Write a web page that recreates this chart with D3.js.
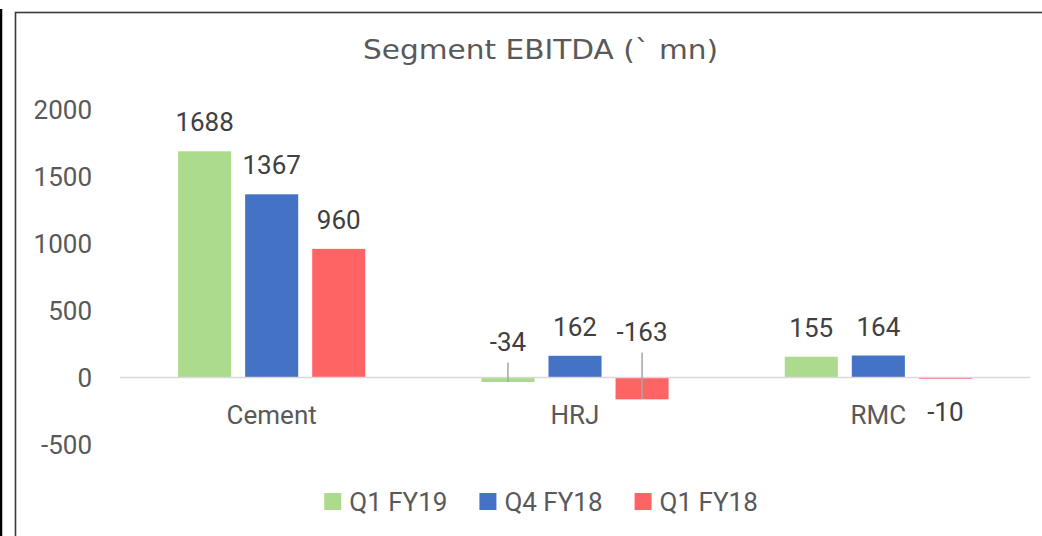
<!DOCTYPE html>
<html>
<head>
<meta charset="utf-8">
<script src="https://cdn.jsdelivr.net/npm/d3@7"></script>
<style>
  body { margin: 0; background: #fff; }
  svg { display: block; font-family: Roboto, "Liberation Sans", sans-serif; }
</style>
</head>
<body>
<svg id="chart"></svg>
<script>
const categories = ["Cement", "HRJ", "RMC"];
const seriesNames = ["Q1 FY19", "Q4 FY18", "Q1 FY18"];
const q1fy19 = [1688, -34, 155];
const q4fy18 = [1367, 162, 164];
const q1fy18 = [960, -163, -10];
const yTicks = [-500, 0, 500, 1000, 1500, 2000];
const seriesColors = ["#acdb8e", "#4472c4", "#ff6464"];

const seriesValues = [q1fy19, q4fy18, q1fy18];

const width = 1042;
const height = 536;
const margin = { top: 109.5, right: 12, bottom: 91.5, left: 120 };

const svg = d3.select("#chart").attr("width", width).attr("height", height);

// outer frame lines
svg.append("line")
  .attr("x1", 1).attr("x2", 1).attr("y1", 9).attr("y2", height)
  .attr("stroke", "#000").attr("stroke-width", 2.5);
svg.append("rect")
  .attr("x", 15.5).attr("y", 12.5)
  .attr("width", width + 10).attr("height", height)
  .attr("fill", "none").attr("stroke", "#3a3a3a").attr("stroke-width", 1.6);

const x0 = d3.scaleBand()
  .domain(categories)
  .range([margin.left, width - margin.right])
  .padding(0);

const x1 = d3.scaleBand()
  .domain(seriesNames)
  .range([0, x0.bandwidth()])
  .paddingInner(0.209)
  .paddingOuter(0.866);

const y = d3.scaleLinear()
  .domain([-500, 2000])
  .range([height - margin.bottom, margin.top]);

// title
svg.append("text")
  .attr("x", 540.5)
  .attr("y", 59)
  .attr("text-anchor", "middle")
  .attr("textLength", 355)
  .attr("lengthAdjust", "spacingAndGlyphs")
  .style("font-family", "'DejaVu Sans', sans-serif")
  .style("font-size", "27px")
  .style("fill", "#595959")
  .text("Segment EBITDA (`  mn)");

// y axis labels
svg.append("g")
  .selectAll("text")
  .data(yTicks)
  .enter()
  .append("text")
  .attr("x", 92)
  .attr("y", (d) => y(d))
  .attr("dy", "0.35em")
  .attr("text-anchor", "end")
  .style("font-size", "26px")
  .style("fill", "#595959")
  .text((d) => d);

// bars
const rows = [];
seriesNames.forEach((s, si) => {
  categories.forEach((c, ci) => {
    rows.push({ series: s, si: si, cat: c, value: seriesValues[si][ci] });
  });
});

svg.append("g")
  .selectAll("rect")
  .data(rows)
  .enter()
  .append("rect")
  .attr("x", (d) => x0(d.cat) + x1(d.series))
  .attr("y", (d) => y(Math.max(0, d.value)))
  .attr("width", x1.bandwidth())
  .attr("height", (d) => Math.abs(y(d.value) - y(0)))
  .attr("fill", (d) => seriesColors[d.si]);

// zero line
svg.append("line")
  .attr("x1", margin.left)
  .attr("x2", width - margin.right)
  .attr("y1", y(0))
  .attr("y2", y(0))
  .attr("stroke", "#d9d9d9")
  .attr("stroke-width", 1.5);

// category labels
svg.append("g")
  .selectAll("text")
  .data(categories)
  .enter()
  .append("text")
  .attr("x", (d) => x0(d) + x0.bandwidth() / 2)
  .attr("y", 424)
  .attr("text-anchor", "middle")
  .style("font-size", "26px")
  .style("fill", "#595959")
  .text((d) => d);

// labels that were dragged above the axis in the original (with leader lines)
const movedLabels = { "HRJ|Q1 FY19": 36, "HRJ|Q1 FY18": 46 };

const labelY = (d) => {
  const key = d.cat + "|" + d.series;
  if (movedLabels[key]) return y(0) - movedLabels[key];
  return d.value >= 0 ? y(d.value) - 29 : y(d.value) + 33;
};

rows.filter((d) => movedLabels[d.cat + "|" + d.series]).forEach((d) => {
  svg.append("line")
    .attr("x1", x0(d.cat) + x1(d.series) + x1.bandwidth() / 2)
    .attr("x2", x0(d.cat) + x1(d.series) + x1.bandwidth() / 2)
    .attr("y1", labelY(d) + 21)
    .attr("y2", y(d.value))
    .attr("stroke", "#a6a6a6")
    .attr("stroke-width", 1.5);
});

svg.append("g")
  .selectAll("text")
  .data(rows)
  .enter()
  .append("text")
  .attr("x", (d) => x0(d.cat) + x1(d.series) + x1.bandwidth() / 2)
  .attr("y", labelY)
  .attr("dy", "0.35em")
  .attr("text-anchor", "middle")
  .style("font-size", "26px")
  .style("fill", "#404040")
  .text((d) => d.value);

// legend
const legend = svg.append("g").attr("class", "legend");
const items = legend.selectAll("g")
  .data(seriesNames)
  .enter()
  .append("g");

items.append("rect")
  .attr("width", 17)
  .attr("height", 17)
  .attr("y", 493)
  .attr("fill", (d, i) => seriesColors[i]);

items.append("text")
  .attr("x", 25)
  .attr("y", 501.5)
  .attr("dy", "0.35em")
  .style("font-size", "26px")
  .style("fill", "#595959")
  .text((d) => d);

let offset = 0;
const widths = [];
items.each(function () {
  const w = 25 + d3.select(this).select("text").node().getComputedTextLength();
  widths.push(w);
});
const gapBetween = 32;
const total = d3.sum(widths) + gapBetween * (widths.length - 1);
let start = 541 - total / 2;
items.attr("transform", (d, i) => {
  const t = `translate(${start + offset},0)`;
  offset += widths[i] + gapBetween;
  return t;
});
</script>
</body>
</html>
